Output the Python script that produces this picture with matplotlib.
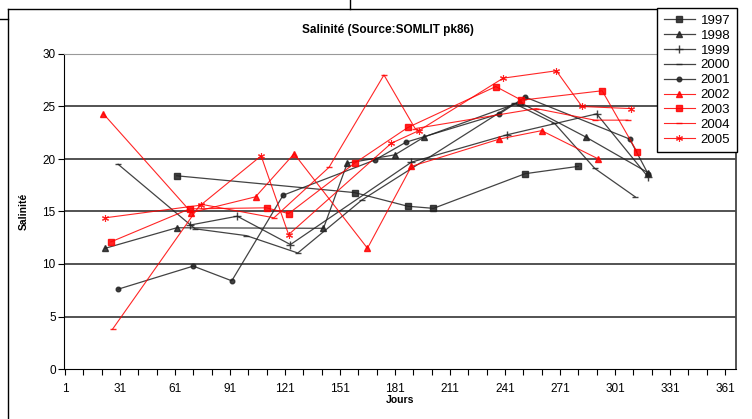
import matplotlib.pyplot as plt
from matplotlib.lines import Line2D

plt.rcParams['font.family'] = ['Liberation Sans Narrow', 'Liberation Sans', 'DejaVu Sans']

years = ['1997', '1998', '1999', '2000', '2001', '2002', '2003', '2004', '2005']

days_1997 = [62, 159, 188, 202, 252, 281]
sal_1997 = [18.4, 16.8, 15.5, 15.3, 18.6, 19.3]

days_1998 = [23, 62, 142, 155, 181, 197, 249, 285, 319]
sal_1998 = [11.5, 13.45, 13.4, 19.6, 20.4, 22.1, 25.4, 22.1, 18.7]

days_1999 = [69, 95, 124, 190, 242, 291, 319]
sal_1999 = [13.7, 14.55, 11.85, 19.7, 22.3, 24.3, 18.3]

days_2000 = [30, 72, 100, 128, 163, 246, 268, 290, 312]
sal_2000 = [19.5, 13.35, 12.7, 11.05, 16.1, 25.3, 23.4, 19.1, 16.4]

days_2001 = [30, 71, 92, 120, 170, 187, 238, 252, 309, 319]
sal_2001 = [7.6, 9.8, 8.4, 16.55, 19.9, 21.6, 24.3, 25.9, 21.9, 18.6]

days_2002 = [22, 70, 105, 126, 166, 190, 238, 261, 292]
sal_2002 = [24.3, 14.9, 16.4, 20.5, 11.5, 19.3, 21.9, 22.7, 20.0]

days_2003 = [26, 69, 111, 123, 159, 188, 236, 250, 294, 313]
sal_2003 = [12.1, 15.25, 15.35, 14.8, 19.6, 23.0, 26.9, 25.6, 26.5, 20.7]

days_2004 = [27, 75, 115, 145, 175, 192, 258, 290, 308]
sal_2004 = [3.8, 15.7, 14.4, 19.2, 28.0, 22.9, 24.8, 23.7, 23.7]

days_2005 = [23, 75, 108, 123, 179, 194, 240, 269, 283, 310]
sal_2005 = [14.4, 15.6, 20.3, 12.8, 21.5, 22.7, 27.7, 28.4, 25.0, 24.8]

all_days = [days_1997, days_1998, days_1999, days_2000, days_2001,
            days_2002, days_2003, days_2004, days_2005]
all_sal = [sal_1997, sal_1998, sal_1999, sal_2000, sal_2001,
           sal_2002, sal_2003, sal_2004, sal_2005]

colors = ['#222222'] * 5 + ['#ff0000'] * 4
markers = ['s', '^', '+', '_', 'o', '^', 's', '_', (6, 2, 0)]
msizes = [3.8, 3.8, 5.5, 5, 3.3, 3.8, 4.5, 5, 5]

W, H = 752, 419
fig = plt.figure(figsize=(W / 100, H / 100), dpi=100)
ax = fig.add_axes([64 / W, 1 - 369 / H, 672 / W, 315 / H])

for y in [5, 10, 15, 20, 25]:
    ax.axhline(y, color='#444444', lw=1.3, zorder=1)

handles = []
for yr, d, s, c, m, ms in zip(years, all_days, all_sal, colors, markers, msizes):
    lw = 0.9 if c != '#ff0000' else 0.8
    mew = 1.0 if m != (6, 2, 0) else 0.8
    h, = ax.plot(d, s, color=c, lw=lw, alpha=0.85, marker=m, markersize=ms,
                 markerfacecolor=c, markeredgecolor=c, markeredgewidth=mew,
                 label=yr, zorder=3)
    handles.append(h)

ax.set_xlim(0.5, 367)
ax.set_ylim(0, 30)
ax.set_xticks(range(1, 362, 30))
ax.set_xticks(range(1, 367, 10), minor=True)
ax.set_yticks(range(0, 31, 5))
ax.tick_params(axis='both', which='both', direction='out', length=4,
               width=0.8, labelsize=8.5, pad=2)
ax.tick_params(axis='x', pad=6)

ax.spines['left'].set_color('black')
ax.spines['bottom'].set_color('black')
ax.spines['top'].set_color('#999999')
ax.spines['right'].set_color('#444444')
ax.spines['right'].set_linewidth(1.3)

ax.set_xlabel('Jours', fontsize=7.5, fontweight='bold', labelpad=0)
ax.set_ylabel('Salinité', fontsize=7.5, fontweight='bold', labelpad=10)

fig.text(388 / W, 1 - 30 / H, 'Salinité (Source:SOMLIT pk86)',
         ha='center', va='center', fontsize=8.5, fontweight='bold')

# cadre du graphique
def fline(xs, ys):
    fig.add_artist(Line2D([x / W for x in xs], [1 - y / H for y in ys],
                          color='black', lw=1, transform=fig.transFigure))

fline([8, 8], [9, 419])
fline([8, 657], [9, 9])
fline([0, 8], [19, 19])
fline([350, 350], [0, 9])

leg = fig.legend(handles=handles, loc='upper left',
                 bbox_to_anchor=(657 / W, 1 - 8 / H), frameon=True,
                 fancybox=False, edgecolor='black', framealpha=1,
                 fontsize=9.5, handlelength=2.4, handletextpad=0.4,
                 labelspacing=0.2, borderpad=0.5, borderaxespad=0)
leg.get_frame().set_linewidth(1)

fig.savefig('out.png', dpi=100)
